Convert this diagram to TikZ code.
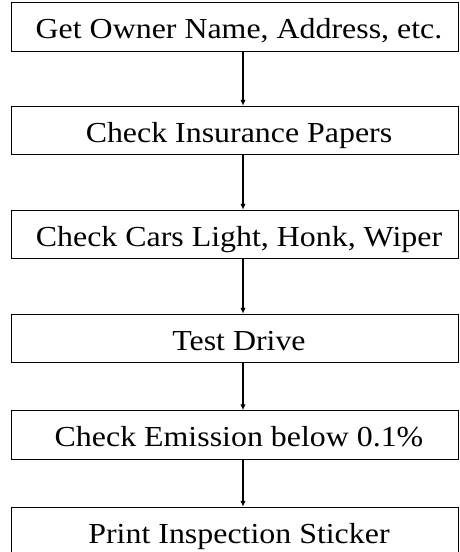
\documentclass[tikz,border=0pt]{standalone}
\usepackage{fontspec}
\setmainfont{Liberation Serif}
\usepackage{graphicx}
\usetikzlibrary{arrows.meta}
\tikzset{
  stepbox/.style={draw=black, line width=0.9pt, rectangle, minimum width=447pt, minimum height=48.5pt, inner sep=0pt},
  lbl/.style={font=\fontsize{29}{34}\selectfont, inner sep=0pt, text height=19pt, text depth=0pt, xshift=4.5pt, yshift=-2pt},
  flow/.style={line width=1.4pt, -{Latex[length=6pt,width=5.5pt]}}
}
\newcommand{\wtxt}[1]{\scalebox{1.1}[1]{#1}}
\begin{document}
\begin{tikzpicture}[x=1pt,y=1pt]
\clip (0,0) rectangle (459,-552);
\node[stepbox, label={[lbl]center:\wtxt{Get Owner Name, Address, etc.}}] (b1) at (234.5,-27) {};
\node[stepbox, label={[lbl]center:\wtxt{Check Insurance Papers}}] (b2) at (234.5,-130.5) {};
\node[stepbox, label={[lbl]center:\wtxt{Check Cars Light, Honk, Wiper}}] (b3) at (234.5,-234.5) {};
\node[stepbox, label={[lbl]center:\wtxt{Test Drive}}] (b4) at (234.5,-338.5) {};
\node[stepbox, label={[lbl]center:\wtxt{Check Emission below 0.1\%}}] (b5) at (234.5,-435) {};
\node[stepbox, label={[lbl]center:\wtxt{Print Inspection Sticker}}] (b6) at (234.5,-531.5) {};
\foreach \a/\b in {b1/b2,b2/b3,b3/b4,b4/b5,b5/b6}
  \draw[flow] ([xshift=8.5pt]\a.south) -- ([xshift=8.5pt]\b.north);
\end{tikzpicture}
\end{document}
